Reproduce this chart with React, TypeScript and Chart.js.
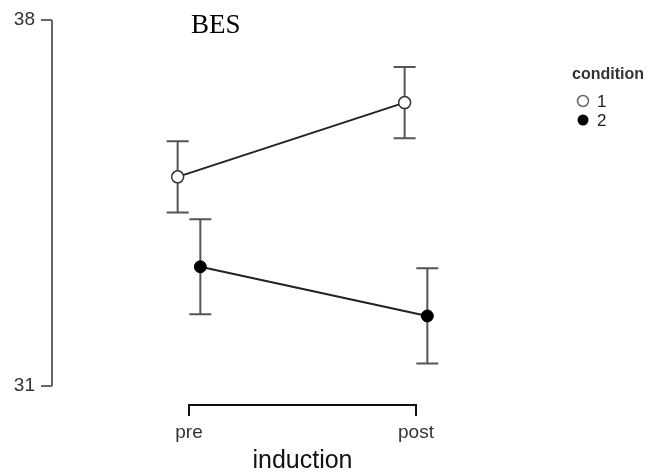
import React, { useEffect, useRef } from "react";
import { Chart, registerables } from "chart.js";

Chart.register(...registerables);

const categories = ["pre", "post"];
const conditions = ["1", "2"];
const means1 = [35.0, 36.42];
const errs1 = [0.68, 0.68];
const means2 = [33.28, 32.34];
const errs2 = [0.91, 0.91];
const yTicks = [31, 38];
const chartTitle = "BES";
const xTitle = "induction";
const legendTitle = "condition";

const DODGE = 0.05;
const FONT = "'Liberation Sans', Arial, sans-serif";

const errorBarsPlugin = {
  id: "errorBars",
  beforeDatasetsDraw(chart: any) {
    const ctx = chart.ctx;
    const xs = chart.scales.x;
    const ys = chart.scales.y;
    chart.data.datasets.forEach((ds: any) => {
      ctx.save();
      ctx.strokeStyle = "#555";
      ctx.lineWidth = 2;
      ds.data.forEach((p: any, i: number) => {
        const e = ds.errs[i];
        const x = xs.getPixelForValue(p.x);
        const yt = ys.getPixelForValue(p.y + e);
        const yb = ys.getPixelForValue(p.y - e);
        ctx.beginPath();
        ctx.moveTo(x, yt);
        ctx.lineTo(x, yb);
        ctx.moveTo(x - 11, yt);
        ctx.lineTo(x + 11, yt);
        ctx.moveTo(x - 11, yb);
        ctx.lineTo(x + 11, yb);
        ctx.stroke();
      });
      ctx.restore();
    });
  },
};

const decorPlugin = {
  id: "decor",
  afterDraw(chart: any) {
    const ctx = chart.ctx;
    const xs = chart.scales.x;
    const ys = chart.scales.y;
    const area = chart.chartArea;
    ctx.save();
    // y axis
    const ax = area.left;
    ctx.strokeStyle = "#666";
    ctx.lineWidth = 2;
    ctx.beginPath();
    ctx.moveTo(ax, ys.getPixelForValue(yTicks[0]));
    ctx.lineTo(ax, ys.getPixelForValue(yTicks[yTicks.length - 1]));
    yTicks.forEach((t) => {
      const y = ys.getPixelForValue(t);
      ctx.moveTo(ax - 11, y);
      ctx.lineTo(ax, y);
    });
    ctx.stroke();
    ctx.fillStyle = "#333";
    ctx.font = `19px ${FONT}`;
    ctx.textAlign = "right";
    ctx.textBaseline = "middle";
    yTicks.forEach((t) => {
      ctx.fillText(String(t), ax - 17, ys.getPixelForValue(t));
    });
    // x bracket
    const x0 = xs.getPixelForValue(1);
    const x1 = xs.getPixelForValue(categories.length);
    const by = area.bottom + 19;
    ctx.strokeStyle = "#111";
    ctx.lineWidth = 2;
    ctx.beginPath();
    ctx.moveTo(x0, by + 11);
    ctx.lineTo(x0, by);
    ctx.lineTo(x1, by);
    ctx.lineTo(x1, by + 11);
    ctx.stroke();
    ctx.fillStyle = "#333";
    ctx.textAlign = "center";
    ctx.textBaseline = "alphabetic";
    categories.forEach((c, i) => {
      ctx.fillText(c, xs.getPixelForValue(i + 1), by + 33);
    });
    ctx.font = `25px ${FONT}`;
    ctx.fillStyle = "#111";
    ctx.fillText(xTitle, (x0 + x1) / 2, by + 63);
    // title
    ctx.font = "27px 'Liberation Serif', 'Times New Roman', serif";
    ctx.fillStyle = "#000";
    ctx.textAlign = "left";
    ctx.fillText(chartTitle, 191, 33);
    // legend
    ctx.textBaseline = "middle";
    ctx.font = `bold 16px ${FONT}`;
    ctx.fillStyle = "#333";
    ctx.fillText(legendTitle, 572, 75);
    ctx.font = `17px ${FONT}`;
    conditions.forEach((c, i) => {
      const cy = 101 + i * 19;
      ctx.beginPath();
      ctx.arc(583, cy, 5.5, 0, Math.PI * 2);
      if (i === 0) {
        ctx.fillStyle = "#fff";
        ctx.fill();
        ctx.strokeStyle = "#666";
        ctx.lineWidth = 1.5;
        ctx.stroke();
      } else {
        ctx.fillStyle = "#000";
        ctx.fill();
      }
      ctx.fillStyle = "#222";
      ctx.fillText(c, 597, cy + 1);
    });
    ctx.restore();
  },
};

export default function App() {
  const ref = useRef<HTMLCanvasElement | null>(null);
  useEffect(() => {
    if (!ref.current) return;
    const chart = new Chart(ref.current, {
      type: "line",
      data: {
        datasets: [
          {
            label: conditions[0],
            data: means1.map((m, i) => ({ x: i + 1 - DODGE, y: m })),
            errs: errs1,
            borderColor: "#222",
            borderWidth: 2,
            pointRadius: 6,
            pointBackgroundColor: "#fff",
            pointBorderColor: "#333",
            pointBorderWidth: 1.5,
            order: 1,
          } as any,
          {
            label: conditions[1],
            data: means2.map((m, i) => ({ x: i + 1 + DODGE, y: m })),
            errs: errs2,
            borderColor: "#222",
            borderWidth: 2,
            pointRadius: 6,
            pointBackgroundColor: "#000",
            pointBorderColor: "#000",
            pointBorderWidth: 1,
            order: 0,
          } as any,
        ],
      },
      options: {
        animation: false,
        responsive: false,
        layout: { padding: { left: 52, top: 20, right: 152, bottom: 90 } },
        plugins: { legend: { display: false }, tooltip: { enabled: false } },
        scales: {
          x: { type: "linear", display: false, min: 0.3965, max: 2.3701 },
          y: { type: "linear", display: false, min: 31, max: 38 },
        },
      },
      plugins: [errorBarsPlugin, decorPlugin],
    });
    return () => chart.destroy();
  }, []);
  return (
    <div style={{ position: "fixed", left: 0, top: 0, width: 652, height: 476, background: "#fff" }}>
      <canvas ref={ref} width={652} height={476} style={{ display: "block" }} />
    </div>
  );
}
